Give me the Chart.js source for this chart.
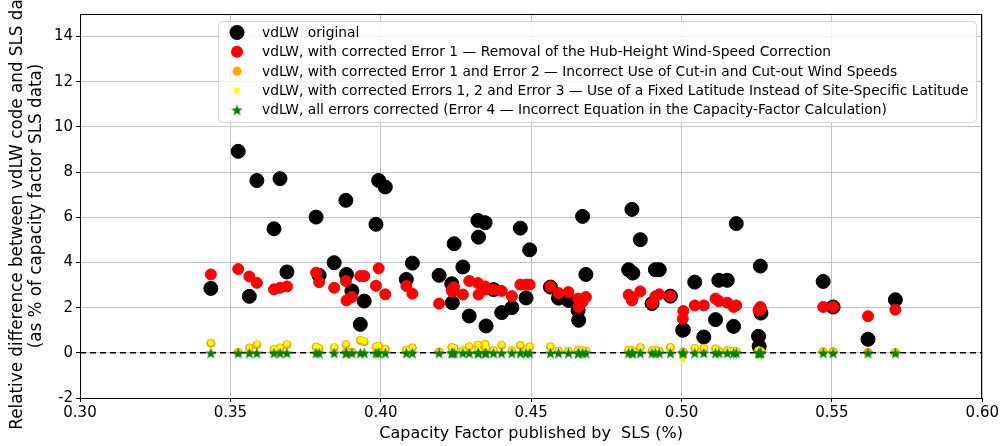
<!DOCTYPE html>
<html>
<head>
<meta charset="utf-8">
<script src="https://cdn.jsdelivr.net/npm/chart.js@4.4.1/dist/chart.umd.min.js"></script>
<style>
    html, body { margin: 0; padding: 0; background: #fff; }
    #wrap { width: 1001px; height: 446px; }
</style>
</head>
<body>
<div id="wrap"><canvas id="cfChart" width="1001" height="446"></canvas></div>
<script>
// capacity factor published by SLS, one entry per site
const capacityFactor = [
    0.3435, 0.3526, 0.3563, 0.3588, 0.3645, 0.3665, 0.3688, 0.3785, 0.3795, 0.3845,
    0.3884, 0.3886, 0.3904, 0.3932, 0.3945, 0.3984, 0.3993, 0.4015, 0.4085, 0.4105,
    0.4194, 0.4236, 0.4238, 0.4244, 0.4273, 0.4294, 0.4323, 0.4325, 0.4347, 0.4350,
    0.4375, 0.4402, 0.4436, 0.4464, 0.4483, 0.4495, 0.4564, 0.4591, 0.4624, 0.4656,
    0.4658, 0.4671, 0.4682, 0.4824, 0.4835, 0.4838, 0.4863, 0.4902, 0.4913, 0.4926,
    0.4963, 0.5004, 0.5006, 0.5044, 0.5074, 0.5113, 0.5124, 0.5152, 0.5173, 0.5182,
    0.5256, 0.5258, 0.5262, 0.5264, 0.5471, 0.5504, 0.5620, 0.5711,
];
const vdlwOriginal = [
    2.85, 8.92, 2.50, 7.63, 5.49, 7.71, 3.58, 6.01, 3.43, 3.99,
    6.75, 3.47, 2.74, 1.26, 2.29, 5.69, 7.63, 7.34, 3.25, 3.97,
    3.43, 3.06, 2.22, 4.83, 3.80, 1.63, 5.86, 5.12, 5.76, 1.19,
    2.80, 1.78, 2.00, 5.52, 2.43, 4.56, 2.91, 2.42, 2.32, 1.88,
    1.44, 6.04, 3.47, 3.68, 6.35, 3.53, 5.01, 2.18, 3.68, 3.68,
    2.51, 1.00, 1.02, 3.13, 0.70, 1.47, 3.21, 3.21, 1.17, 5.72,
    0.73, 0.29, 3.84, 1.76, 3.16, 2.03, 0.60, 2.35,
];
const fixedError1 = [
    3.47, 3.71, 3.38, 3.10, 2.81, 2.88, 2.94, 3.55, 3.13, 2.88,
    3.18, 2.32, 2.47, 3.40, 3.40, 2.97, 3.74, 2.59, 2.96, 2.62,
    2.18, 2.80, 2.70, 2.90, 2.58, 3.18, 3.09, 2.58, 2.94, 2.80,
    2.80, 2.74, 2.51, 3.02, 3.02, 3.02, 2.94, 2.65, 2.69, 2.40,
    2.03, 2.25, 2.47, 2.57, 2.32, 2.45, 2.72, 2.20, 2.50, 2.59,
    2.51, 1.51, 1.85, 2.10, 2.10, 2.40, 2.29, 2.22, 2.03, 2.10,
    1.88, 1.95, 2.03, 1.95, 2.03, 2.03, 1.62, 1.91,
];
const fixedErrors12 = [
    0.42, 0.02, 0.22, 0.36, 0.15, 0.22, 0.36, 0.26, 0.19, 0.23,
    0.37, 0.04, 0.03, 0.55, 0.49, 0.26, 0.30, 0.16, 0.12, 0.22,
    0.04, 0.24, 0.10, 0.20, 0.10, 0.27, 0.34, 0.10, 0.38, 0.20,
    0.10, 0.33, 0.10, 0.33, 0.10, 0.27, 0.27, 0.08, 0.08, 0.12,
    0.08, 0.10, 0.08, 0.12, 0.10, 0.08, 0.24, 0.10, 0.12, 0.08,
    0.24, 0.02, 0.04, 0.20, 0.20, 0.18, 0.08, 0.10, 0.08, 0.06,
    0.10, 0.08, 0.05, 0.06, 0.06, 0.06, 0.02, 0.02,
];
const fixedErrors123 = [
    0.45, 0.03, 0.24, 0.40, 0.18, 0.25, 0.40, 0.28, 0.22, 0.26,
    0.40, 0.05, 0.04, 0.57, 0.52, 0.28, 0.32, 0.18, 0.14, 0.25,
    0.05, 0.26, 0.12, 0.22, 0.12, 0.30, 0.37, 0.12, 0.41, 0.22,
    0.12, 0.36, 0.12, 0.36, 0.12, 0.29, 0.29, 0.10, 0.10, 0.14,
    0.10, 0.12, 0.10, 0.14, 0.12, 0.10, 0.26, 0.12, 0.14, 0.10,
    0.26, -0.30, 0.05, 0.22, 0.22, 0.20, 0.10, 0.12, 0.10, 0.08,
    0.12, 0.05, -0.15, 0.08, 0.05, 0.05, -0.05, 0.03,
];
const fixedAllErrors = capacityFactor.map(() => 0);

const xTicks = [0.30, 0.35, 0.40, 0.45, 0.50, 0.55, 0.60];
const yTicks = [-2, 0, 2, 4, 6, 8, 10, 12, 14];

const seriesLabels = [
    'vdLW  original',
    'vdLW, with corrected Error 1 \u2014 Removal of the Hub-Height Wind-Speed Correction',
    'vdLW, with corrected Error 1 and Error 2 \u2014 Incorrect Use of Cut-in and Cut-out Wind Speeds',
    'vdLW, with corrected Errors 1, 2 and Error 3 \u2014 Use of a Fixed Latitude Instead of Site-Specific Latitude',
    'vdLW, all errors corrected (Error 4 \u2014 Incorrect Equation in the Capacity-Factor Calculation)',
];

const FONT = '"DejaVu Sans", Verdana, sans-serif';

function makeStar(size, color) {
    const c = document.createElement('canvas');
    c.width = size;
    c.height = size;
    const g = c.getContext('2d');
    const cx = size / 2, cy = size / 2, outer = size / 2 - 0.5, inner = outer * 0.42;
    g.beginPath();
    for (let i = 0; i < 10; i++) {
        const r = i % 2 === 0 ? outer : inner;
        const a = -Math.PI / 2 + i * Math.PI / 5;
        g.lineTo(cx + r * Math.cos(a), cy + r * Math.sin(a) + 0.8);
    }
    g.closePath();
    g.fillStyle = color;
    g.fill();
    return c;
}

const greenStar = makeStar(13, '#008000');

function points(ys) {
    return capacityFactor.map((x, i) => ({ x, y: ys[i] }));
}

function scatterSet(label, ys, color, radius, order) {
    return {
        type: 'scatter',
        label,
        data: points(ys),
        backgroundColor: color,
        borderColor: color,
        borderWidth: 1,
        pointRadius: radius,
        pointHoverRadius: radius,
        order,
    };
}

const datasets = [
    scatterSet(seriesLabels[0], vdlwOriginal, '#000000', 7, 6),
    scatterSet(seriesLabels[1], fixedError1, '#ff0000', 5.5, 5),
    scatterSet(seriesLabels[2], fixedErrors12, '#ffa500', 4, 4),
    scatterSet(seriesLabels[3], fixedErrors123, '#ffff00', 2.5, 3),
    Object.assign(scatterSet(seriesLabels[4], fixedAllErrors, '#008000', 6.5, 1), {
        pointStyle: greenStar,
    }),
    {
        type: 'line',
        label: 'zero',
        data: [{ x: xTicks[0], y: 0 }, { x: xTicks[xTicks.length - 1], y: 0 }],
        borderColor: '#000000',
        borderWidth: 1.5,
        borderDash: [6, 4],
        pointRadius: 0,
        order: 2,
    },
];

// frame round the plot and the legend box inside it
const frameAndLegend = {
    id: 'frameAndLegend',
    afterDraw(chart) {
        const { ctx, chartArea: a } = chart;
        ctx.save();
        ctx.strokeStyle = '#000';
        ctx.lineWidth = 1;
        ctx.strokeRect(Math.round(a.left) + 0.5, Math.round(a.top) + 0.5,
            Math.round(a.right - a.left) - 1, Math.round(a.bottom - a.top));

        const bx = 218.5, by = 21.5, bw = 758, bh = 101, rad = 4;
        ctx.beginPath();
        ctx.moveTo(bx + rad, by);
        ctx.arcTo(bx + bw, by, bx + bw, by + bh, rad);
        ctx.arcTo(bx + bw, by + bh, bx, by + bh, rad);
        ctx.arcTo(bx, by + bh, bx, by, rad);
        ctx.arcTo(bx, by, bx + bw, by, rad);
        ctx.closePath();
        ctx.fillStyle = 'rgba(255,255,255,0.8)';
        ctx.fill();
        ctx.strokeStyle = '#d6d6d6';
        ctx.stroke();

        ctx.font = '13.8px ' + FONT;
        ctx.textBaseline = 'middle';
        ctx.textAlign = 'left';
        chart.data.datasets.filter((d) => d.label !== 'zero').forEach((d, i) => {
            const y = 32.5 + i * 19.3;
            const mx = 237;
            if (d.pointStyle) {
                ctx.drawImage(d.pointStyle, mx - d.pointStyle.width / 2, y - d.pointStyle.height / 2);
            } else {
                ctx.beginPath();
                ctx.arc(mx, y, d.pointRadius + 0.5, 0, Math.PI * 2);
                ctx.fillStyle = d.backgroundColor;
                ctx.fill();
            }
            ctx.fillStyle = '#000';
            ctx.fillText(d.label, 262, y + 1);
        });
        ctx.restore();
    },
};

new Chart(document.getElementById('cfChart'), {
    data: { datasets },
    options: {
        responsive: false,
        animation: false,
        events: [],
        layout: { padding: { top: 14, right: 18, left: 0, bottom: 0 } },
        plugins: { legend: { display: false }, tooltip: { enabled: false } },
        scales: {
            x: {
                type: 'linear',
                min: xTicks[0],
                max: xTicks[xTicks.length - 1],
                afterBuildTicks: (scale) => { scale.ticks = xTicks.map((v) => ({ value: v })); },
                afterFit: (scale) => { scale.height = 48; },
                ticks: {
                    callback: (v) => Number(v).toFixed(2),
                    color: '#000',
                    font: { family: FONT, size: 15 },
                    padding: 2,
                    maxRotation: 0,
                },
                grid: { color: '#c4c4c4', lineWidth: 1, tickColor: '#000', tickLength: 4 },
                border: { color: '#000' },
                title: {
                    display: true,
                    text: 'Capacity Factor published by  SLS (%)',
                    color: '#000',
                    font: { family: FONT, size: 16 },
                    padding: { top: 2, bottom: 3 },
                },
            },
            y: {
                type: 'linear',
                min: -2,
                max: 15,
                afterBuildTicks: (scale) => { scale.ticks = yTicks.map((v) => ({ value: v })); },
                afterFit: (scale) => { scale.width = 80; },
                ticks: {
                    color: '#000',
                    font: { family: FONT, size: 15 },
                    padding: 3,
                },
                grid: { color: '#c4c4c4', lineWidth: 1, tickColor: '#000', tickLength: 4 },
                border: { color: '#000' },
                title: {
                    display: true,
                    text: ['Relative difference between vdLW code and SLS data', '(as % of capacity factor SLS data)'],
                    color: '#000',
                    font: { family: FONT, size: 16.8, lineHeight: 1.13 },
                    padding: { top: 8.5, bottom: 0 },
                },
            },
        },
    },
    plugins: [frameAndLegend],
});
</script>
</body>
</html>
